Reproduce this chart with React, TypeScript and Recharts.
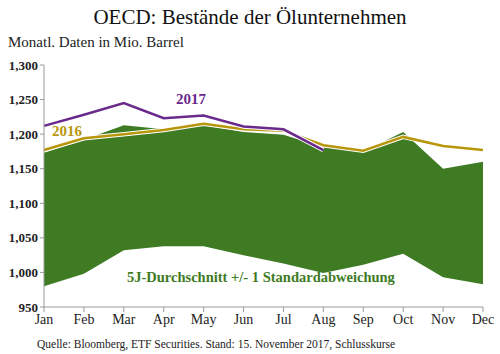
import React from "react";
import { ComposedChart, Area, Line, XAxis, YAxis } from "recharts";

const months = ["Jan", "Feb", "Mar", "Apr", "May", "Jun", "Jul", "Aug", "Sep", "Oct", "Nov", "Dec"];
const band_low = [980, 998, 1032, 1038, 1038, 1025, 1013, 999, 1011, 1027, 993, 983];
const band_high = [1173, 1192, 1213, 1207, 1213, 1203, 1199, 1181, 1175, 1203, 1150, 1160];
const y2016 = [1177, 1194, 1200, 1206, 1215, 1207, 1205, 1184, 1176, 1196, 1183, 1177];
const y2017 = [1212, 1228, 1245, 1223, 1227, 1211, 1207, 1177];
const yTicks = [950, 1000, 1050, 1100, 1150, 1200, 1250, 1300];

const data = months.map((m, i) => ({
  month: m,
  band: [band_low[i], band_high[i]],
  y2016: y2016[i],
  y2017: i < y2017.length ? y2017[i] : null,
}));

const FONT = "'Liberation Serif', 'DejaVu Serif', serif";
const GREEN = "#3e7b23";
const PURPLE = "#6a2a8c";
const GOLD = "#b8960c";

const App: React.FC = () => {
  return (
    <div style={{ position: "absolute", left: 0, top: 0, width: 500, height: 354, fontFamily: FONT, background: "#fff" }}>
      <style>{`.recharts-cartesian-axis-tick-value, .recharts-cartesian-axis-tick-value tspan { font-family: ${FONT}; }`}</style>
      <div style={{ position: "absolute", left: 0, width: 500, top: 5, textAlign: "center", fontSize: 21, color: "#111" }}>
        OECD: Bestände der Ölunternehmen
      </div>
      <div style={{ position: "absolute", left: 8, top: 34, fontSize: 15, color: "#222" }}>
        Monatl. Daten in Mio. Barrel
      </div>
      <ComposedChart
        width={500}
        height={354}
        data={data}
        margin={{ top: 65, right: 17, bottom: 17, left: 0 }}
        style={{ fontFamily: FONT }}
      >
        <XAxis
          dataKey="month"
          scale="point"
          padding={{ left: 0, right: 0 }}
          stroke="#999"
          tickLine={{ stroke: "#999" }}
          tickSize={5}
          height={30}
          tick={{ fill: "#222", fontSize: 14, style: { fontFamily: FONT } }}
          interval={0}
        />
        <YAxis
          domain={[950, 1300]}
          ticks={yTicks}
          width={44}
          stroke="#999"
          tickLine={{ stroke: "#999" }}
          tickSize={4}
          tick={{ fill: "#222", fontSize: 13, fontWeight: "bold", style: { fontFamily: FONT } }}
          tickFormatter={(v: number) => v.toLocaleString("en-US")}
          allowDataOverflow
        />
        <Area
          type="linear"
          dataKey="band"
          stroke="none"
          fill={GREEN}
          fillOpacity={1}
          isAnimationActive={false}
        />
        <Line type="linear" dataKey="y2016" stroke="#fff" strokeWidth={4.5} dot={false} isAnimationActive={false} />
        <Line type="linear" dataKey="y2016" stroke={GOLD} strokeWidth={2.5} dot={false} isAnimationActive={false} />
        <Line type="linear" dataKey="y2017" stroke="#fff" strokeWidth={4.5} dot={false} isAnimationActive={false} />
        <Line type="linear" dataKey="y2017" stroke={PURPLE} strokeWidth={2.5} dot={false} isAnimationActive={false} />
      </ComposedChart>
      <div style={{ position: "absolute", left: 176, top: 91, fontSize: 15, fontWeight: "bold", color: PURPLE }}>2017</div>
      <div style={{ position: "absolute", left: 52, top: 123, fontSize: 15, fontWeight: "bold", color: GOLD }}>2016</div>
      <div style={{ position: "absolute", left: 127, top: 269, fontSize: 14.5, fontWeight: "bold", color: GREEN }}>
        5J-Durchschnitt +/- 1 Standardabweichung
      </div>
      <div style={{ position: "absolute", left: 37, top: 338, fontSize: 11.5, color: "#222" }}>
        Quelle: Bloomberg, ETF Securities. Stand: 15. November 2017, Schlusskurse
      </div>
    </div>
  );
};

export default App;
